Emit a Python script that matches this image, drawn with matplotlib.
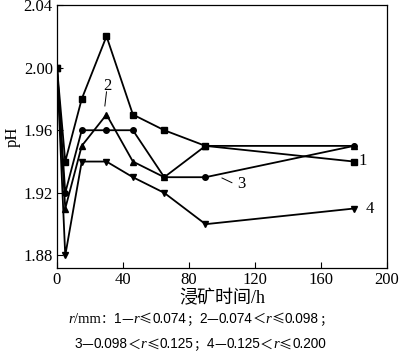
import matplotlib
matplotlib.use("Agg")
import matplotlib.pyplot as plt
from matplotlib.offsetbox import TextArea, HPacker, AnchoredOffsetbox

plt.rcParams['font.family'] = ['Liberation Serif', 'Noto Sans CJK SC', 'DejaVu Sans']

time_h = [0, 5, 15, 30, 46, 65, 90, 180]
ph_1 = [2.00, 1.94, 1.98, 2.02, 1.97, 1.96, 1.95, 1.94]
ph_2 = [2.00, 1.91, 1.95, 1.97, 1.94, 1.93, 1.95, 1.95]
ph_3 = [2.00, 1.92, 1.96, 1.96, 1.96, 1.93, 1.93, 1.95]
ph_4 = [2.00, 1.88, 1.94, 1.94, 1.93, 1.92, 1.90, 1.91]
x_ticks = [0, 40, 80, 120, 160, 200]
y_ticks = [1.88, 1.92, 1.96, 2.00, 2.04]

fig = plt.figure(figsize=(4.0, 3.55), dpi=100)
ax = fig.add_axes([0.1425, 0.245, 0.825, 0.741])

kw = dict(color='black', lw=1.3, markersize=4)
ax.plot(time_h, ph_1, marker='s', **kw)
ax.plot(time_h, ph_2, marker='^', **kw)
ax.plot(time_h, ph_3, marker='o', **kw)
ax.plot(time_h, ph_4, marker='v', **kw)

ax.set_xlim(0, 200)
ax.set_ylim(1.872, 2.04)
ax.set_xticks(x_ticks)
ax.set_yticks(y_ticks)
ax.set_yticklabels([f"{v:.2f}" for v in y_ticks])
ax.tick_params(direction='in', length=4, width=0.8, labelsize=12, pad=3)
for s in ax.spines.values():
    s.set_linewidth(0.9)

ax.set_ylabel('pH', fontsize=12, labelpad=2)
ax.set_xlabel('浸矿时间/h', fontsize=13, labelpad=1)

# curve labels
ax.text(183, 1.9405, '1', fontsize=12, va='center', ha='left')
ax.text(187, 1.910, '4', fontsize=12, va='center', ha='left')
ax.text(30.5, 1.983, '2', fontsize=12, va='bottom', ha='center')
ax.plot([30, 29], [1.9845, 1.9755], color='black', lw=0.7)
ax.text(109, 1.9255, '3', fontsize=12, va='center', ha='left')
ax.plot([100, 106], [1.9295, 1.9265], color='black', lw=0.7)

# caption
SERIF = ['Liberation Serif', 'Noto Sans CJK SC']
SANS = ['Liberation Sans', 'Noto Sans CJK SC']
CJK = ['Noto Sans CJK SC', 'DejaVu Sans']

def caption(parts, y):
    boxes = []
    for t, kind in parts:
        if kind == 'i':
            tp = dict(fontsize=10.5, style='italic', family=SERIF)
        elif kind == 's':
            tp = dict(fontsize=10.5, family=SERIF)
        elif kind == 'c':
            tp = dict(fontsize=9.5, family=CJK)
        else:
            tp = dict(fontsize=9.8, family=SANS)
        boxes.append(TextArea(t, textprops=tp))
    pk = HPacker(children=boxes, pad=0, sep=0, align='baseline')
    ab = AnchoredOffsetbox(loc='center', child=pk, bbox_to_anchor=(0.5, y),
                           bbox_transform=fig.transFigure, frameon=False, pad=0, borderpad=0)
    fig.add_artist(ab)

caption([('r', 'i'), ('/mm', 's'), ('：', 'c'), ('1', 'n'), ('—', 'c'), ('r', 'i'),
         ('≤', 'c'), ('0.074', 'n'), ('；', 'c'), ('2', 'n'), ('—', 'c'), ('0.074', 'n'),
         ('＜', 'c'), ('r', 'i'), ('≤', 'c'), ('0.098', 'n'), ('；', 'c')], 0.102)
caption([('3', 'n'), ('—', 'c'), ('0.098', 'n'), ('＜', 'c'), ('r', 'i'), ('≤', 'c'),
         ('0.125', 'n'), ('；', 'c'), ('4', 'n'), ('—', 'c'), ('0.125', 'n'), ('＜', 'c'),
         ('r', 'i'), ('≤', 'c'), ('0.200', 'n')], 0.030)

fig.savefig('out.png', dpi=100)
